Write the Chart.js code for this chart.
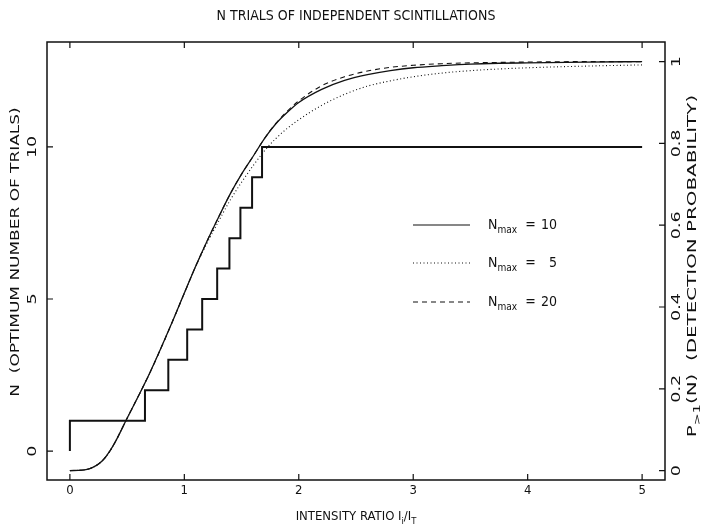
<!DOCTYPE html>
<html>
<head>
<meta charset="utf-8">
<script src="https://cdn.jsdelivr.net/npm/chart.js@4.4.0/dist/chart.umd.min.js"></script>
<style>
  html, body { margin: 0; padding: 0; background: #ffffff; }
  #wrap { width: 702px; height: 531px; }
</style>
</head>
<body>
<div id="wrap"><canvas id="c" width="702" height="531"></canvas></div>
<script>
// ---------- data ----------
const chartTitle = 'N TRIALS OF INDEPENDENT SCINTILLATIONS';
const xTicks = [0, 1, 2, 3, 4, 5];
const nTicks = [0, 5, 10];
const pTicks = [0, 0.2, 0.4, 0.6, 0.8, 1];
const pTickLabels = ['0', '0.2', '0.4', '0.6', '0.8', '1'];

// optimum number of trials (step function): x where N jumps to the level
const stepX = [0, 0.656, 0.860, 1.025, 1.156, 1.287, 1.394, 1.490, 1.592, 1.679];
const stepN = [1, 2, 3, 4, 5, 6, 7, 8, 9, 10];
const stepEndX = 5;

// detection probability curves
const ratioX  = [0, 0.1, 0.15, 0.2, 0.25, 0.3, 0.35, 0.4, 0.5, 0.6, 0.7, 0.8, 0.9, 1.0, 1.1, 1.2, 1.3, 1.4, 1.5, 1.6, 1.7, 1.8, 1.9, 2.0, 2.2, 2.4, 2.6, 2.8, 3.0, 3.25, 3.5, 3.75, 4.0, 4.5, 5.0];
const pNmax10 = [0, 0.001, 0.003, 0.008, 0.016, 0.029, 0.048, 0.072, 0.128, 0.183, 0.24, 0.302, 0.367, 0.434, 0.5, 0.562, 0.62, 0.676, 0.725, 0.768, 0.812, 0.848, 0.876, 0.9, 0.932, 0.954, 0.968, 0.978, 0.985, 0.99, 0.994, 0.996, 0.997, 0.999, 1.0];
const pNmax5  = [0, 0.001, 0.003, 0.008, 0.016, 0.029, 0.048, 0.072, 0.128, 0.183, 0.24, 0.302, 0.367, 0.434, 0.5, 0.557, 0.61, 0.661, 0.705, 0.745, 0.782, 0.812, 0.837, 0.858, 0.893, 0.92, 0.94, 0.953, 0.963, 0.972, 0.978, 0.982, 0.985, 0.989, 0.992];
const pNmax20 = [0, 0.001, 0.003, 0.008, 0.016, 0.029, 0.048, 0.072, 0.128, 0.183, 0.24, 0.302, 0.367, 0.434, 0.5, 0.562, 0.62, 0.676, 0.725, 0.768, 0.812, 0.849, 0.879, 0.904, 0.941, 0.963, 0.977, 0.986, 0.991, 0.995, 0.997, 0.998, 0.999, 1.0, 1.0];

const legendNmax = ['10', '5', '20'];

// ---------- build datasets ----------
const stepData = [];
for (let i = 0; i < stepX.length; i++) {
  stepData.push({ x: stepX[i], y: stepN[i] - 1 });
  stepData.push({ x: stepX[i], y: stepN[i] });
}
stepData.push({ x: stepEndX, y: stepN[stepN.length - 1] });

const toPts = arr => ratioX.map((x, i) => ({ x: x, y: arr[i] }));

const FONT = "'Liberation Sans Narrow', 'DejaVu Sans Condensed', 'Liberation Sans', Arial, sans-serif";

function richWidth(ctx, parts, size) {
  let w = 0;
  parts.forEach(p => {
    ctx.font = (p.sub ? size * 0.72 : size) + 'px ' + FONT;
    w += ctx.measureText(p.t).width;
  });
  return w;
}
// stretch: scale factor applied along the text direction
function drawRich(ctx, parts, x, y, size, align, rot, stretch) {
  const st = stretch || 1;
  ctx.save();
  ctx.translate(x, y);
  if (rot) ctx.rotate(rot);
  ctx.scale(st, 1);
  ctx.fillStyle = '#111';
  ctx.textBaseline = 'middle';
  ctx.textAlign = 'left';
  const w = richWidth(ctx, parts, size);
  let cx = align === 'center' ? -w / 2 : (align === 'right' ? -w : 0);
  parts.forEach(p => {
    const s = p.sub ? size * 0.72 : size;
    ctx.font = s + 'px ' + FONT;
    ctx.fillText(p.t, cx, p.sub ? size * 0.35 : 0);
    cx += ctx.measureText(p.t).width;
  });
  ctx.restore();
}

const decor = {
  id: 'decor',
  afterDraw(chart) {
    const ctx = chart.ctx;
    const a = chart.chartArea;
    const sx = chart.scales.x, sy = chart.scales.y, sp = chart.scales.y2;
    const TL = 6;
    ctx.save();
    ctx.strokeStyle = '#111';
    ctx.lineWidth = 1.5;
    ctx.strokeRect(a.left, a.top, a.right - a.left, a.bottom - a.top);
    ctx.lineWidth = 1.2;
    ctx.beginPath();
    xTicks.forEach(v => {
      const px = sx.getPixelForValue(v);
      ctx.moveTo(px, a.bottom); ctx.lineTo(px, a.bottom - TL);
      ctx.moveTo(px, a.top); ctx.lineTo(px, a.top + TL);
    });
    nTicks.forEach(v => {
      const py = sy.getPixelForValue(v);
      ctx.moveTo(a.left, py); ctx.lineTo(a.left + TL, py);
    });
    pTicks.forEach(v => {
      const py = sp.getPixelForValue(v);
      ctx.moveTo(a.right, py); ctx.lineTo(a.right - TL, py);
    });
    ctx.stroke();
    ctx.restore();

    const FS = 13;
    // x tick labels
    xTicks.forEach(v => drawRich(ctx, [{ t: String(v) }], sx.getPixelForValue(v), 491, FS, 'center', 0));
    // left tick labels (rotated, elongated like the reference)
    nTicks.forEach(v => drawRich(ctx, [{ t: String(v) }], 33, sy.getPixelForValue(v), FS, 'center', -Math.PI / 2, 1.5));
    // right tick labels (rotated)
    pTicks.forEach((v, i) => drawRich(ctx, [{ t: pTickLabels[i] }], 677, sp.getPixelForValue(v), FS, 'center', -Math.PI / 2, 1.5));
    // title
    drawRich(ctx, [{ t: chartTitle }], (a.left + a.right) / 2, 16, 14, 'center', 0);
    // x title
    drawRich(ctx, [{ t: 'INTENSITY RATIO I' }, { t: 'i', sub: true }, { t: '/I' }, { t: 'T', sub: true }], (a.left + a.right) / 2, 517, FS, 'center', 0);
    // left title
    drawRich(ctx, [{ t: 'N  (OPTIMUM NUMBER OF TRIALS)' }], 16, 252, FS, 'center', -Math.PI / 2, 1.45);
    // right title
    drawRich(ctx, [{ t: 'P' }, { t: '>1', sub: true }, { t: '(N)  (DETECTION PROBABILITY)' }], 693, 266, FS, 'center', -Math.PI / 2, 1.7);

    // legend
    const rows = [225, 263, 302];
    const dashes = [[], [1, 2.5], [5, 4]];
    rows.forEach((ry, i) => {
      ctx.save();
      ctx.strokeStyle = '#111';
      ctx.lineWidth = 1.2;
      ctx.setLineDash(dashes[i]);
      ctx.beginPath();
      ctx.moveTo(413, ry); ctx.lineTo(470, ry);
      ctx.stroke();
      ctx.restore();
      drawRich(ctx, [{ t: 'N' }, { t: 'max', sub: true }, { t: '  =' }], 488, ry, 14, 'left', 0);
      drawRich(ctx, [{ t: legendNmax[i] }], 557, ry, 14, 'right', 0);
    });
  }
};

new Chart(document.getElementById('c'), {
  type: 'line',
  data: {
    datasets: [
      { label: 'N', data: stepData, yAxisID: 'y', borderColor: '#111', borderWidth: 2, pointRadius: 0, tension: 0 },
      { label: 'Nmax=5', data: toPts(pNmax5), yAxisID: 'y2', borderColor: '#111', borderWidth: 1.1, borderDash: [1, 2.5], pointRadius: 0, cubicInterpolationMode: 'monotone' },
      { label: 'Nmax=20', data: toPts(pNmax20), yAxisID: 'y2', borderColor: '#111', borderWidth: 1.1, borderDash: [5, 4], pointRadius: 0, cubicInterpolationMode: 'monotone' },
      { label: 'Nmax=10', data: toPts(pNmax10), yAxisID: 'y2', borderColor: '#111', borderWidth: 1.3, pointRadius: 0, cubicInterpolationMode: 'monotone' }
    ]
  },
  options: {
    responsive: false,
    animation: false,
    devicePixelRatio: 1,
    layout: { padding: { left: 47, right: 37, top: 42, bottom: 51 } },
    plugins: { legend: { display: false }, tooltip: { enabled: false } },
    scales: {
      x: { type: 'linear', min: -0.2, max: 5.2, display: false },
      y: { type: 'linear', position: 'left', min: -0.95, max: 13.45, display: false },
      y2: { type: 'linear', position: 'right', min: -0.023, max: 1.048, display: false }
    }
  },
  plugins: [decor]
});
</script>
</body>
</html>
